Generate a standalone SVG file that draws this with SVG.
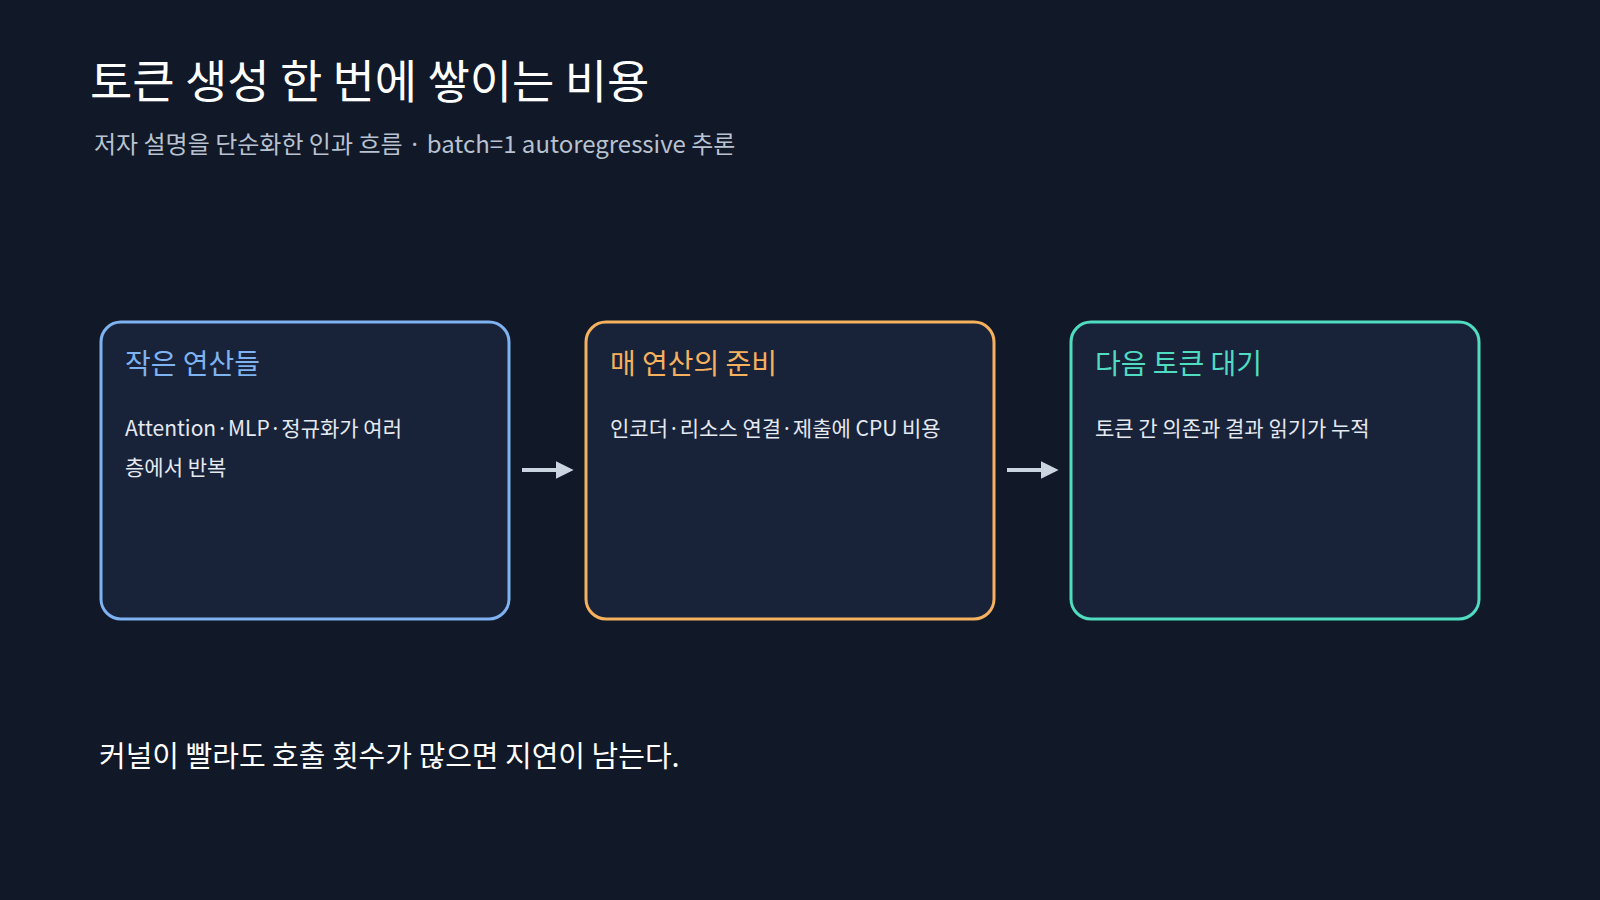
<svg xmlns="http://www.w3.org/2000/svg" width="1600" height="900" viewBox="0 0 1600 900">
<defs>
<style>
text{font-family:"Noto Sans CJK KR","Noto Sans",sans-serif}
.box{fill:#18233a;stroke-width:3}
.h{font-size:28px}
.b{font-size:21px;fill:#e5e9f0}
.arr{stroke:#cbd5e1;stroke-width:4}
</style>
<marker id="ah" viewBox="0 0 10 10" refX="8" refY="5" markerWidth="4.5" markerHeight="4.5" orient="auto"><path d="M0,0L10,5L0,10z" fill="#cbd5e1"/></marker>
</defs>
<rect width="1600" height="900" fill="#111827"/>
<text x="90" y="98" font-size="46" fill="#ffffff">토큰 생성 한 번에 쌓이는 비용</text>
<text x="94" y="153" font-size="24" fill="#b8c2d0">저자 설명을 단순화한 인과 흐름 · batch=1 autoregressive 추론</text>
<g id="node1"><rect class="box" x="101" y="322" width="408" height="297" rx="20" stroke="#7fb2f0"/>
<text class="h" x="125" y="374" fill="#7fb2f0">작은 연산들</text>
<text class="b" x="125" y="436">Attention·MLP·정규화가 여러</text>
<text class="b" x="125" y="475">층에서 반복</text></g>
<g id="node2"><rect class="box" x="586" y="322" width="408" height="297" rx="20" stroke="#f6b15e"/>
<text class="h" x="610" y="374" fill="#f6b15e">매 연산의 준비</text>
<text class="b" x="610" y="436">인코더·리소스 연결·제출에 CPU 비용</text></g>
<g id="node3"><rect class="box" x="1071" y="322" width="408" height="297" rx="20" stroke="#4fdcc0"/>
<text class="h" x="1095" y="374" fill="#4fdcc0">다음 토큰 대기</text>
<text class="b" x="1095" y="436">토큰 간 의존과 결과 읽기가 누적</text></g>
<g id="connectors">
<line class="arr" x1="522" y1="470" x2="570" y2="470" marker-end="url(#ah)"/>
<line class="arr" x1="1007" y1="470" x2="1055" y2="470" marker-end="url(#ah)"/>
</g>
<text x="99" y="767" font-size="29" fill="#ffffff">커널이 빨라도 호출 횟수가 많으면 지연이 남는다.</text>
</svg>
